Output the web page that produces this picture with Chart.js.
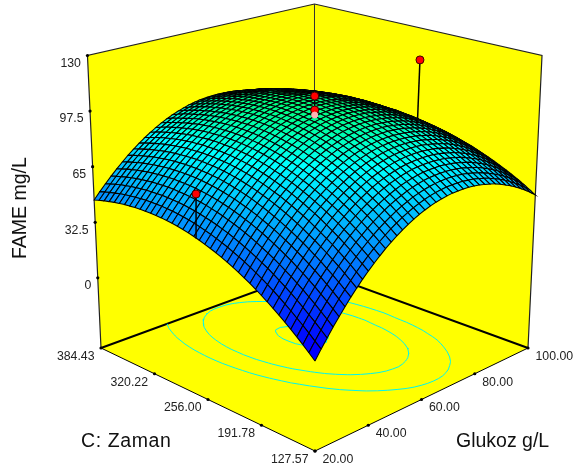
<!DOCTYPE html>
<html>
<head>
<meta charset="utf-8">
<script src="https://cdn.jsdelivr.net/npm/chart.js@4"></script>
<style>
  html, body { margin: 0; padding: 0; background: #fff; }
  canvas { display: block; }
</style>
</head>
<body>
<canvas id="chart" width="574" height="469"></canvas>
<script>
// Axis labels
const glucoseTicks = ['20.00', '40.00', '60.00', '80.00', '100.00'];
const zamanTicks = ['127.57', '191.78', '256.00', '320.22', '384.43'];
const fameTicks = [0, 32.5, 65, 97.5, 130];

// FAME: rows go up in Zaman, columns go up in Glukoz
const fameRows = [
  [4.4,9.1,13.5,17.8,21.9,25.8,29.6,33.1,36.5,39.7,42.7,45.5,48.2,50.6,52.9,55.0,56.9,58.7,60.2,61.6,62.8,63.8,64.6,65.3,65.8,66.0,66.1,66.1,65.8,65.4,64.7,63.9,63.0,61.8,60.4,58.9,57.2,55.3,53.2,50.9,48.5],
  [7.3,11.9,16.3,20.6,24.7,28.6,32.3,35.8,39.2,42.4,45.4,48.2,50.8,53.2,55.5,57.6,59.5,61.2,62.8,64.1,65.3,66.3,67.1,67.7,68.2,68.4,68.5,68.4,68.1,67.7,67.0,66.2,65.2,64.0,62.6,61.1,59.3,57.4,55.3,53.0,50.6],
  [10.1,14.7,19.1,23.3,27.4,31.3,35.0,38.5,41.9,45.0,48.0,50.8,53.4,55.8,58.0,60.1,62.0,63.7,65.2,66.6,67.7,68.7,69.5,70.1,70.5,70.8,70.8,70.7,70.4,69.9,69.2,68.4,67.3,66.1,64.7,63.2,61.4,59.5,57.4,55.1,52.6],
  [12.8,17.4,21.7,26.0,30.0,33.9,37.6,41.1,44.4,47.5,50.5,53.2,55.8,58.2,60.4,62.5,64.4,66.1,67.5,68.9,70.0,71.0,71.8,72.4,72.7,73.0,73.0,72.8,72.5,72.0,71.3,70.4,69.4,68.2,66.8,65.2,63.4,61.4,59.3,57.0,54.5],
  [15.4,19.9,24.3,28.5,32.6,36.4,40.0,43.5,46.8,49.9,52.9,55.6,58.2,60.6,62.8,64.8,66.6,68.3,69.8,71.1,72.2,73.1,73.9,74.5,74.8,75.0,75.1,74.9,74.5,74.0,73.3,72.4,71.4,70.1,68.7,67.1,65.3,63.3,61.1,58.8,56.3],
  [17.9,22.4,26.8,31.0,35.0,38.8,42.4,45.9,49.2,52.3,55.2,57.9,60.4,62.8,65.0,67.0,68.9,70.5,72.0,73.2,74.3,75.2,76.0,76.5,76.8,77.0,77.0,76.8,76.5,75.9,75.2,74.3,73.2,71.9,70.5,68.9,67.1,65.1,62.9,60.5,58.0],
  [20.3,24.8,29.2,33.3,37.3,41.1,44.7,48.1,51.4,54.5,57.4,60.0,62.6,64.9,67.1,69.1,71.0,72.6,74.0,75.2,76.3,77.2,77.9,78.4,78.7,78.9,78.9,78.7,78.3,77.7,77.0,76.1,74.9,73.7,72.2,70.6,68.7,66.7,64.5,62.1,59.6],
  [22.6,27.1,31.4,35.6,39.5,43.3,46.9,50.3,53.5,56.6,59.5,62.2,64.6,67.0,69.1,71.2,73.0,74.6,76.0,77.2,78.2,79.1,79.8,80.3,80.6,80.7,80.7,80.5,80.1,79.5,78.7,77.8,76.6,75.3,73.8,72.2,70.3,68.3,66.1,63.7,61.1],
  [24.8,29.3,33.6,37.7,41.7,45.4,49.0,52.3,55.6,58.7,61.5,64.1,66.6,68.9,71.0,73.0,74.8,76.4,77.8,79.0,80.0,80.9,81.6,82.0,82.3,82.5,82.4,82.2,81.7,81.1,80.3,79.4,78.3,76.9,75.4,73.7,71.8,69.8,67.6,65.2,62.5],
  [26.9,31.4,35.7,39.8,43.7,47.5,51.0,54.4,57.6,60.6,63.4,66.0,68.5,70.8,72.9,74.9,76.7,78.2,79.6,80.7,81.7,82.6,83.2,83.7,84.0,84.1,84.0,83.7,83.3,82.7,81.8,80.9,79.7,78.4,76.9,75.2,73.3,71.2,68.9,66.5,63.8],
  [29.0,33.4,37.7,41.8,45.7,49.4,52.9,56.3,59.5,62.4,65.3,67.9,70.3,72.6,74.7,76.6,78.3,79.9,81.2,82.4,83.4,84.2,84.8,85.3,85.5,85.6,85.5,85.2,84.8,84.1,83.3,82.3,81.1,79.7,78.2,76.5,74.6,72.5,70.2,67.8,65.1],
  [30.9,35.3,39.6,43.6,47.5,51.2,54.7,58.1,61.2,64.2,67.0,69.6,72.0,74.3,76.3,78.2,79.9,81.5,82.8,83.9,84.9,85.7,86.3,86.7,87.0,87.0,86.9,86.6,86.1,85.5,84.6,83.6,82.4,81.0,79.5,77.7,75.8,73.7,71.4,68.9,66.3],
  [32.7,37.1,41.4,45.4,49.3,53.0,56.4,59.8,62.9,65.8,68.6,71.2,73.6,75.8,77.9,79.8,81.4,83.0,84.3,85.4,86.3,87.1,87.7,88.1,88.3,88.4,88.2,87.9,87.4,86.7,85.8,84.8,83.6,82.2,80.6,78.9,77.0,74.8,72.5,70.0,67.2],
  [34.5,38.9,43.1,47.1,51.0,54.6,58.0,61.4,64.5,67.4,70.2,72.7,75.1,77.3,79.4,81.2,82.9,84.4,85.6,86.7,87.7,88.4,89.0,89.4,89.6,89.7,89.5,89.1,88.6,87.9,87.0,85.9,84.7,83.3,81.7,80.0,78.0,75.8,73.5,71.0,68.2],
  [36.1,40.5,44.7,48.7,52.5,56.1,59.6,62.9,66.0,68.9,71.6,74.1,76.5,78.6,80.7,82.5,84.2,85.6,86.9,88.0,88.9,89.6,90.2,90.6,90.8,90.8,90.6,90.3,89.7,89.0,88.1,87.0,85.7,84.3,82.7,81.0,78.9,76.8,74.4,71.9,69.0],
  [37.7,42.0,46.2,50.2,54.0,57.6,61.0,64.2,67.3,70.2,72.9,75.4,77.8,79.9,81.9,83.8,85.4,86.9,88.1,89.2,90.1,90.8,91.4,91.7,91.9,91.9,91.7,91.3,90.8,90.0,89.1,88.0,86.7,85.2,83.6,81.8,79.8,77.6,75.2,72.6,69.8],
  [39.1,43.5,47.6,51.6,55.3,58.9,62.3,65.5,68.6,71.5,74.2,76.7,79.0,81.1,83.1,84.9,86.5,88.0,89.2,90.3,91.1,91.9,92.4,92.7,92.8,92.8,92.6,92.2,91.6,90.8,89.9,88.8,87.4,85.9,84.3,82.5,80.4,78.2,75.8,73.2,70.4],
  [40.5,44.8,49.0,52.9,56.6,60.2,63.6,66.8,69.8,72.7,75.3,77.8,80.1,82.2,84.2,86.0,87.6,89.0,90.2,91.3,92.1,92.8,93.3,93.6,93.7,93.7,93.5,93.1,92.4,91.6,90.7,89.5,88.2,86.7,85.0,83.1,81.1,78.8,76.4,73.8,71.0],
  [41.7,46.0,50.1,54.0,57.8,61.3,64.7,67.9,70.9,73.8,76.4,78.9,81.2,83.2,85.2,86.9,88.5,89.9,91.1,92.2,93.0,93.6,94.1,94.4,94.5,94.5,94.2,93.7,93.1,92.3,91.3,90.1,88.8,87.3,85.5,83.6,81.6,79.3,76.9,74.2,71.4],
  [42.9,47.2,51.3,55.2,58.9,62.5,65.8,68.9,72.0,74.8,77.4,79.8,82.1,84.2,86.0,87.8,89.3,90.7,91.9,92.9,93.7,94.3,94.8,95.1,95.2,95.1,94.9,94.4,93.7,92.9,91.8,90.6,89.3,87.7,86.0,84.1,82.0,79.7,77.2,74.5,71.7],
  [44.0,48.2,52.3,56.2,59.9,63.4,66.7,69.9,72.9,75.7,78.3,80.7,82.9,85.0,86.9,88.6,90.1,91.5,92.6,93.5,94.4,95.0,95.4,95.7,95.7,95.7,95.4,94.9,94.2,93.4,92.3,91.1,89.7,88.1,86.4,84.5,82.3,80.0,77.5,74.8,72.1],
  [45.0,49.2,53.2,57.1,60.8,64.3,67.6,70.7,73.7,76.5,79.1,81.5,83.7,85.7,87.6,89.3,90.8,92.1,93.2,94.1,94.9,95.5,95.9,96.1,96.2,96.1,95.8,95.3,94.6,93.7,92.6,91.4,90.0,88.4,86.6,84.6,82.4,80.1,77.6,74.9,72.2],
  [45.9,50.1,54.1,58.0,61.6,65.1,68.4,71.5,74.4,77.2,79.8,82.2,84.3,86.4,88.2,89.9,91.4,92.6,93.7,94.7,95.4,96.0,96.4,96.6,96.6,96.4,96.1,95.6,94.9,93.9,93.0,91.6,90.1,88.5,86.7,84.7,82.5,80.2,77.6,74.9,72.3],
  [46.7,50.9,54.9,58.7,62.4,65.8,69.1,72.2,75.1,77.8,80.4,82.7,84.9,86.9,88.7,90.4,91.8,93.1,94.2,95.0,95.7,96.3,96.6,96.8,96.8,96.6,96.3,95.7,95.0,94.0,93.1,91.8,90.3,88.7,86.9,85.0,82.8,80.4,77.8,75.2,72.3],
  [47.4,51.5,55.5,59.3,62.9,66.4,69.6,72.7,75.6,78.3,80.8,83.2,85.4,87.3,89.1,90.8,92.2,93.5,94.5,95.4,96.2,96.7,97.0,97.2,97.2,97.0,96.6,96.1,95.3,94.4,93.3,92.0,90.5,88.9,87.1,85.1,82.9,80.5,77.9,75.2,72.3],
  [48.0,52.1,56.1,59.8,63.5,66.9,70.1,73.2,76.0,78.7,81.2,83.6,85.7,87.7,89.5,91.1,92.5,93.7,94.8,95.7,96.4,96.9,97.2,97.3,97.3,97.1,96.7,96.1,95.3,94.4,93.3,92.0,90.5,88.8,87.0,85.0,82.7,80.3,77.8,75.0,72.1],
  [48.5,52.6,56.5,60.3,63.9,67.3,70.5,73.5,76.4,79.1,81.5,83.9,86.0,87.9,89.7,91.3,92.7,93.9,94.9,95.8,96.5,96.9,97.3,97.4,97.3,97.1,96.7,96.1,95.3,94.3,93.2,91.9,90.4,88.7,86.8,84.8,82.5,80.1,77.5,74.7,71.8],
  [48.9,53.0,56.9,60.6,64.2,67.6,70.8,73.8,76.6,79.3,81.8,84.0,86.2,88.1,89.8,91.4,92.8,94.0,95.0,95.8,96.5,96.9,97.2,97.3,97.3,97.0,96.6,95.9,95.1,94.2,93.0,91.7,90.1,88.4,86.5,84.5,82.2,79.8,77.1,74.3,71.4],
  [49.2,53.3,57.2,60.9,64.4,67.8,71.0,74.0,76.8,79.4,81.9,84.1,86.2,88.1,89.8,91.4,92.8,93.9,94.9,95.7,96.4,96.8,97.1,97.2,97.1,96.8,96.4,95.7,94.9,93.9,92.7,91.3,89.8,88.1,86.2,84.1,81.8,79.3,76.7,73.9,70.9],
  [49.4,53.5,57.4,61.1,64.6,67.9,71.1,74.1,76.8,79.5,81.9,84.1,86.2,88.1,89.8,91.3,92.7,93.8,94.8,95.6,96.2,96.6,96.9,97.0,96.8,96.5,96.1,95.4,94.6,93.5,92.3,91.0,89.4,87.6,85.7,83.6,81.3,78.8,76.2,73.3,70.3],
  [49.5,53.6,57.4,61.1,64.6,67.9,71.1,74.0,76.8,79.4,81.8,84.0,86.1,88.0,89.6,91.1,92.5,93.6,94.6,95.3,95.9,96.3,96.6,96.6,96.5,96.2,95.7,95.0,94.1,93.1,91.9,90.5,88.9,87.1,85.2,83.0,80.7,78.2,75.5,72.7,69.6],
  [49.6,53.6,57.4,61.1,64.6,67.9,71.0,73.9,76.7,79.3,81.6,83.9,85.9,87.7,89.4,90.9,92.2,93.3,94.2,95.0,95.6,95.9,96.2,96.2,96.0,95.7,95.2,94.5,93.6,92.5,91.3,89.9,88.3,86.5,84.5,82.4,80.0,77.5,74.8,71.9,68.9],
  [49.5,53.5,57.3,61.0,64.4,67.7,70.8,73.7,76.4,79.0,81.4,83.6,85.6,87.4,89.0,90.5,91.8,92.9,93.8,94.5,95.1,95.5,95.6,95.7,95.5,95.1,94.6,93.9,93.0,91.9,90.6,89.2,87.6,85.7,83.8,81.6,79.2,76.7,74.0,71.1,68.0],
  [49.3,53.3,57.1,60.7,64.2,67.4,70.5,73.4,76.1,78.7,81.0,83.2,85.2,87.0,88.6,90.0,91.3,92.4,93.3,94.0,94.5,94.9,95.0,95.0,94.8,94.5,93.9,93.2,92.2,91.1,89.9,88.4,86.8,84.9,82.9,80.7,78.3,75.8,73.0,70.1,67.0],
  [49.1,53.0,56.8,60.4,63.9,67.1,70.1,73.0,75.7,78.2,80.6,82.7,84.7,86.5,88.1,89.5,90.7,91.8,92.7,93.4,93.9,94.2,94.4,94.3,94.1,93.7,93.1,92.4,91.4,90.3,89.0,87.5,85.9,84.0,82.0,79.8,77.4,74.8,72.0,69.1,66.0],
  [48.7,52.7,56.4,60.0,63.4,66.6,69.7,72.5,75.2,77.7,80.0,82.1,84.1,85.9,87.4,88.8,90.1,91.1,92.0,92.6,93.1,93.4,93.6,93.5,93.3,92.9,92.3,91.5,90.5,89.4,88.1,86.6,84.9,83.0,81.0,78.7,76.3,73.7,70.9,68.0,64.8],
  [48.3,52.2,55.9,59.5,62.9,66.1,69.1,71.9,74.6,77.1,79.4,81.5,83.4,85.1,86.7,88.1,89.3,90.3,91.1,91.8,92.3,92.6,92.7,92.6,92.3,91.9,91.3,90.5,89.5,88.4,87.0,85.5,83.8,81.9,79.8,77.6,75.1,72.5,69.7,66.7,63.6],
  [47.7,51.6,55.4,58.9,62.3,65.5,68.4,71.3,73.9,76.4,78.6,80.7,82.6,84.3,85.9,87.3,88.4,89.4,90.2,90.9,91.3,91.6,91.7,91.6,91.3,90.9,90.2,89.4,88.4,87.2,85.9,84.3,82.6,80.7,78.6,76.3,73.9,71.2,68.4,65.4,62.2],
  [47.1,51.0,54.7,58.2,61.6,64.7,67.7,70.5,73.1,75.5,77.8,79.9,81.7,83.4,85.0,86.3,87.5,88.4,89.2,89.9,90.3,90.5,90.6,90.5,90.2,89.7,89.1,88.2,87.2,86.0,84.6,83.1,81.3,79.4,77.3,75.0,72.5,69.9,67.0,64.0,60.8],
  [46.4,50.2,53.9,57.4,60.7,63.9,66.8,69.6,72.2,74.6,76.9,78.9,80.8,82.5,84.0,85.3,86.4,87.4,88.2,88.7,89.2,89.4,89.4,89.3,89.0,88.5,87.8,87.0,85.9,84.7,83.3,81.7,80.0,78.0,75.9,73.6,71.1,68.4,65.5,62.5,59.3],
  [45.5,49.4,53.0,56.5,59.8,62.9,65.9,68.6,71.2,73.6,75.8,77.8,79.7,81.3,82.8,84.1,85.2,86.2,86.9,87.5,87.9,88.1,88.1,88.0,87.7,87.1,86.4,85.6,84.5,83.3,81.8,80.2,78.5,76.5,74.3,72.0,69.5,66.8,63.9,60.8,57.6]
];

// Design points
const pointGlucose = [100, 20, 60, 60, 60];
const pointZaman = [261, 259.5, 256, 256, 256];
const pointFame = [110.4, 68.8, 106.3, 98.1, 95.2];
const pointBase = [72.2, 44.8, 94.4, 94.4, 94.4];
const pointBehind = [true, false, false, false, false];

// Contour levels on the floor
const contourLevels = [81.05, 88.85, 96.75];

// Axis ranges
const glucoseRange = [20, 100];
const zamanRange = [127.57, 384.43];
const fameRange = [-41, 130];

// Colour ramp of the surface
const rampFame = [10, 78, 115];
const rampGreen = [0, 255, 255];
const rampBlue = [255, 255, 0];

const W = 574;
const H = 469;

// Perspective of the box, floor plane and top plane
function project(u, v, w) {
  const df = 1 + 0.16 * (u + v);
  const dt = 1 + 0.0485 * (u + v);
  const fx = (315 + 297.48 * u - 197.84 * v) / df;
  const fy = (451 - 47.32 * (u + v)) / df;
  const tx = (315 + 253.3 * u - 223.3 * v) / dt;
  const ty = (112 - 53.8 * (u + v)) / dt;
  return { x: fx + (tx - fx) * w, y: fy + (ty - fy) * w };
}

function unit(val, range) {
  return (val - range[0]) / (range[1] - range[0]);
}

function poly(points, fill, border, width) {
  return {
    showLine: true,
    data: points,
    fill: fill ? 'shape' : false,
    backgroundColor: fill || 'transparent',
    borderColor: border || 'transparent',
    borderWidth: width || 0,
    pointRadius: 0,
    tension: 0
  };
}

function surfaceColor(z) {
  let k = 0;
  while (k < rampFame.length - 2 && z > rampFame[k + 1]) k++;
  const t = Math.max(0, Math.min(1, (z - rampFame[k]) / (rampFame[k + 1] - rampFame[k])));
  const g = rampGreen[k] + (rampGreen[k + 1] - rampGreen[k]) * t;
  const b = rampBlue[k] + (rampBlue[k + 1] - rampBlue[k]) * t;
  return `rgb(0,${Math.round(g)},${Math.round(b)})`;
}

// Build the walls and floor
function wallDatasets() {
  const left = [project(0, 1, 0), project(1, 1, 0), project(1, 1, 1), project(0, 1, 1), project(0, 1, 0)];
  const right = [project(1, 0, 0), project(1, 1, 0), project(1, 1, 1), project(1, 0, 1), project(1, 0, 0)];
  const floor = [project(0, 0, 0), project(1, 0, 0), project(1, 1, 0), project(0, 1, 0), project(0, 0, 0)];
  return [
    poly(left, '#ffff00'),
    poly(right, '#ffff00'),
    poly(floor, '#ffff00'),
    poly([project(0, 1, 0), project(0, 1, 1), project(1, 1, 1), project(1, 0, 1), project(1, 0, 0)], null, '#222', 1.2),
    poly([project(1, 1, 0), project(1, 1, 1)], null, '#333', 1),
    poly([project(0, 1, 0), project(0, 0, 0), project(1, 0, 0)], null, '#000', 1),
    poly([project(0, 1, 0), project(1, 1, 0), project(1, 0, 0)], null, '#000', 2)
  ];
}

// Contours on the floor, walked cell by cell through the table.
// The floor map sits a little off the surface map in the picture, hence the nudge.
function floorPoint(u, v) {
  return project(u - 0.038, 1 - (1 - v) * 1.148, 0);
}

function contourDatasets() {
  const rows = fameRows.length - 1;
  const cols = fameRows[0].length - 1;
  return contourLevels.map(level => {
    const pts = [];
    for (let j = 0; j < rows; j++) {
      for (let i = 0; i < cols; i++) {
        const c = [
          [i, j, fameRows[j][i]],
          [i + 1, j, fameRows[j][i + 1]],
          [i + 1, j + 1, fameRows[j + 1][i + 1]],
          [i, j + 1, fameRows[j + 1][i]]
        ];
        const hits = [];
        for (let e = 0; e < 4; e++) {
          const a = c[e];
          const b = c[(e + 1) % 4];
          if ((a[2] - level) * (b[2] - level) < 0) {
            const t = (level - a[2]) / (b[2] - a[2]);
            hits.push(floorPoint((a[0] + (b[0] - a[0]) * t) / cols, (a[1] + (b[1] - a[1]) * t) / rows));
          }
        }
        if (hits.length >= 2) {
          pts.push(hits[0], hits[1], { x: null, y: null });
        }
      }
    }
    return poly(pts, null, '#00f5f0', 1);
  });
}

// Surface cells, far corner first
function surfaceDatasets() {
  const rows = fameRows.length - 1;
  const cols = fameRows[0].length - 1;
  const out = [];
  const pt = (i, j) => project(i / cols, j / rows, unit(fameRows[j][i], fameRange));
  for (let j = rows - 1; j >= 0; j--) {
    for (let i = cols - 1; i >= 0; i--) {
      const z = (fameRows[j][i] + fameRows[j][i + 1] + fameRows[j + 1][i] + fameRows[j + 1][i + 1]) / 4;
      out.push(poly([pt(i, j), pt(i + 1, j), pt(i + 1, j + 1), pt(i, j + 1), pt(i, j)], surfaceColor(z), '#000', 1.05));
    }
  }
  return out;
}

function stemDataset(k) {
  const u = unit(pointGlucose[k], glucoseRange);
  const v = unit(pointZaman[k], zamanRange);
  return poly([project(u, v, unit(pointBase[k], fameRange)), project(u, v, unit(pointFame[k], fameRange))], null, '#000', 1.5);
}

function markerDataset() {
  return {
    data: pointFame.map((f, k) => project(unit(pointGlucose[k], glucoseRange), unit(pointZaman[k], zamanRange), unit(f, fameRange))),
    pointRadius: [4, 4, 4, 4, 3],
    pointBackgroundColor: ['#ff0000', '#ff0000', '#ff0000', '#ff0000', '#ffb4b4'],
    pointBorderColor: ['#400000', '#400000', '#400000', '#400000', '#ffb4b4'],
    pointBorderWidth: 1
  };
}

// Tick spots, evenly spaced along each edge as in the picture
function lerpPoints(a, b, n) {
  const out = [];
  for (let k = 0; k < n; k++) {
    out.push({ x: a.x + (b.x - a.x) * k / (n - 1), y: a.y + (b.y - a.y) * k / (n - 1) });
  }
  return out;
}
const glucoseSpots = lerpPoints(project(0, 0, 0), project(1, 0, 0), glucoseTicks.length);
const zamanSpots = lerpPoints(project(0, 0, 0), project(0, 1, 0), zamanTicks.length);
const fameSpots = fameTicks.map(f => project(0, 1, unit(f, fameRange)));

function tickDataset() {
  return {
    data: glucoseSpots.concat(zamanSpots, fameSpots),
    pointRadius: 1.6,
    pointBackgroundColor: '#000',
    pointBorderWidth: 0
  };
}

// Text is drawn after the datasets, anchored on the scales
const textPlugin = {
  id: 'boxText',
  afterDraw(chart) {
    const { ctx, scales } = chart;
    const sx = scales.x;
    const sy = scales.y;
    ctx.save();
    ctx.fillStyle = '#222';
    ctx.font = '12.3px "Liberation Sans", Arial, sans-serif';
    ctx.textBaseline = 'middle';
    ctx.textAlign = 'right';
    fameTicks.forEach((t, k) => {
      ctx.fillText(String(t), sx.getPixelForValue(fameSpots[k].x) - 6.5, sy.getPixelForValue(fameSpots[k].y) + 8);
    });
    zamanTicks.forEach((t, k) => {
      ctx.fillText(t, sx.getPixelForValue(zamanSpots[k].x) - 6.5, sy.getPixelForValue(zamanSpots[k].y) + 8.5);
    });
    ctx.textAlign = 'left';
    glucoseTicks.forEach((t, k) => {
      ctx.fillText(t, sx.getPixelForValue(glucoseSpots[k].x) + 7.5, sy.getPixelForValue(glucoseSpots[k].y) + 8.5);
    });

    ctx.fillStyle = '#111';
    ctx.font = '19.5px "Liberation Sans", Arial, sans-serif';
    ctx.textBaseline = 'alphabetic';
    ctx.letterSpacing = '0.6px';
    ctx.fillText('C: Zaman', 81, 447);
    ctx.letterSpacing = '0px';
    ctx.fillText('Glukoz g/L', 456, 447);
    ctx.translate(26, 259);
    ctx.rotate(-Math.PI / 2);
    ctx.fillText('FAME mg/L', 0, 0);
    ctx.restore();
  }
};

// Draw order: Chart.js paints the last dataset first, so reverse at the end
const layers = [];
layers.push(...wallDatasets());
layers.push(...contourDatasets());
pointBehind.forEach((behind, k) => { if (behind) layers.push(stemDataset(k)); });
layers.push(...surfaceDatasets());
pointBehind.forEach((behind, k) => { if (!behind) layers.push(stemDataset(k)); });
layers.push(markerDataset());
layers.push(tickDataset());
layers.reverse();

new Chart(document.getElementById('chart').getContext('2d'), {
  type: 'scatter',
  data: { datasets: layers },
  options: {
    responsive: false,
    animation: false,
    events: [],
    layout: { padding: 0, autoPadding: false },
    plugins: { legend: { display: false }, tooltip: { enabled: false } },
    scales: {
      x: { type: 'linear', min: 0, max: W, display: false },
      y: { type: 'linear', min: 0, max: H, reverse: true, display: false }
    }
  },
  plugins: [textPlugin]
});
</script>
</body>
</html>
